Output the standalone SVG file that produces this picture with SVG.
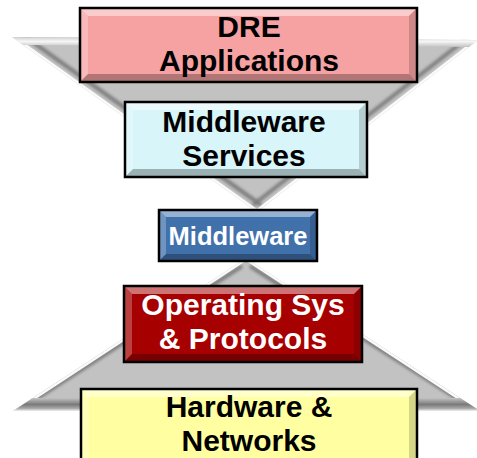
<svg xmlns="http://www.w3.org/2000/svg" width="477" height="458" viewBox="0 0 477 458">
  <defs>
    <style>
      .lbl { font-family: "Liberation Sans", Arial, sans-serif; font-weight: bold; text-anchor: middle; }
      .dark { fill: #000; }
      .light { fill: #fff; }
      .big { font-size: 30px; }
      .small { font-size: 25.5px; }
      .frame { fill: none; stroke: #000; stroke-width: 2.5; }
      .bt { fill: #fff; fill-opacity: 0.45; }
      .bl { fill: #fff; fill-opacity: 0.25; }
      .bb { fill: #000; fill-opacity: 0.28; }
      .br { fill: #000; fill-opacity: 0.16; }
      .body { fill: #c2c2c2; }
      .hi { fill: none; stroke: #fafafa; stroke-width: 5; }
      .sh { fill: none; stroke: #7e7e7e; stroke-width: 4; filter: url(#soft); }
    </style>
    <filter id="soft" x="-10%" y="-10%" width="120%" height="120%">
      <feGaussianBlur stdDeviation="1.6"/>
    </filter>
    <linearGradient id="topFace" x1="0" y1="0" x2="0" y2="1">
      <stop offset="0" stop-color="#d0d0d0"/>
      <stop offset="0.45" stop-color="#f6f6f6"/>
      <stop offset="1" stop-color="#c2c2c2"/>
    </linearGradient>
    <linearGradient id="baseFace" x1="0" y1="0" x2="0" y2="1">
      <stop offset="0" stop-color="#c2c2c2"/>
      <stop offset="0.5" stop-color="#7a7a7a"/>
      <stop offset="0.8" stop-color="#a8a8a8"/>
      <stop offset="1" stop-color="#f2f2f2"/>
    </linearGradient>
    <clipPath id="clipUpper"><polygon points="12,37 478,40 257,212"/></clipPath>
    <clipPath id="clipLower"><polygon points="246,258 480,411 13,411"/></clipPath>
  </defs>

  <!-- funnel shapes behind the stack -->
  <g id="funnel-upper">
    <polygon class="body" points="12,37 478,40 257,212"/>
    <g clip-path="url(#clipUpper)">
      <line class="sh" x1="20" y1="33" x2="261" y2="205"/>
      <line class="sh" x1="470" y1="36" x2="253" y2="205"/>
      <line class="hi" x1="12" y1="37" x2="257" y2="212"/>
      <line class="hi" x1="478" y1="40" x2="257" y2="212"/>
      <polygon fill="url(#topFace)" points="12,37 478,40 472,47 20,45"/>
    </g>
  </g>
  <g id="funnel-lower">
    <polygon class="body" points="246,258 480,411 13,411"/>
    <g clip-path="url(#clipLower)">
      <line class="sh" x1="250" y1="266" x2="486" y2="417"/>
      <line class="sh" x1="242" y1="266" x2="8" y2="417"/>
      <line class="hi" x1="246" y1="258" x2="480" y2="411"/>
      <line class="hi" x1="246" y1="258" x2="13" y2="411"/>
      <polygon fill="url(#baseFace)" points="0,398 477,398 477,411 0,411"/>
    </g>
  </g>

  <g id="connectors"/>

  <!-- layer boxes, top to bottom -->
  <g id="dre-applications">
    <rect x="80" y="8" width="337" height="74" fill="#f6a2a2"/>
    <polygon class="bt" points="80,8 417,8 409,16 88,16"/>
    <polygon class="bl" points="80,8 88,16 88,74 80,82"/>
    <polygon class="bb" points="80,82 88,74 409,74 417,82"/>
    <polygon class="br" points="417,8 417,82 409,74 409,16"/>
    <rect class="frame" x="80" y="8" width="337" height="74"/>
    <text class="lbl dark big" x="249" y="37">DRE<tspan x="249" dy="33.5">Applications</tspan></text>
  </g>

  <g id="middleware-services">
    <rect x="125" y="102" width="242" height="75" fill="#d8f5fa"/>
    <polygon class="bt" points="125,102 367,102 359,110 133,110"/>
    <polygon class="bl" points="125,102 133,110 133,169 125,177"/>
    <polygon class="bb" points="125,177 133,169 359,169 367,177"/>
    <polygon class="br" points="367,102 367,177 359,169 359,110"/>
    <rect class="frame" x="125" y="102" width="242" height="75"/>
    <text class="lbl dark big" x="244" y="132">Middleware<tspan x="244" dy="33.5">Services</tspan></text>
  </g>

  <g id="middleware">
    <rect x="159" y="210" width="158" height="51" fill="#4171ab"/>
    <polygon class="bt" points="159,210 317,210 310,217 166,217"/>
    <polygon class="bl" points="159,210 166,217 166,254 159,261"/>
    <polygon class="bb" points="159,261 166,254 310,254 317,261"/>
    <polygon class="br" points="317,210 317,261 310,254 310,217"/>
    <rect class="frame" x="159" y="210" width="158" height="51"/>
    <text class="lbl light small" x="238" y="245">Middleware</text>
  </g>

  <g id="operating-sys">
    <rect x="124" y="286" width="238" height="76" fill="#a60000"/>
    <polygon class="bt" points="124,286 362,286 354,294 132,294"/>
    <polygon class="bl" points="124,286 132,294 132,354 124,362"/>
    <polygon class="bb" points="124,362 132,354 354,354 362,362"/>
    <polygon class="br" points="362,286 362,362 354,354 354,294"/>
    <rect class="frame" x="124" y="286" width="238" height="76"/>
    <text class="lbl light big" x="243" y="315">Operating Sys<tspan x="243" dy="33.5">&amp; Protocols</tspan></text>
  </g>

  <g id="hardware-networks">
    <rect x="81" y="389" width="336" height="72" fill="#ffffa2"/>
    <polygon class="bt" points="81,389 417,389 409,397 89,397"/>
    <polygon class="bl" points="81,389 89,397 89,461 81,461"/>
    <polygon class="br" points="417,389 417,461 409,461 409,397"/>
    <rect class="frame" x="81" y="389" width="336" height="72"/>
    <text class="lbl dark big" x="249" y="417">Hardware &amp;<tspan x="249" dy="33.5">Networks</tspan></text>
  </g>
</svg>
